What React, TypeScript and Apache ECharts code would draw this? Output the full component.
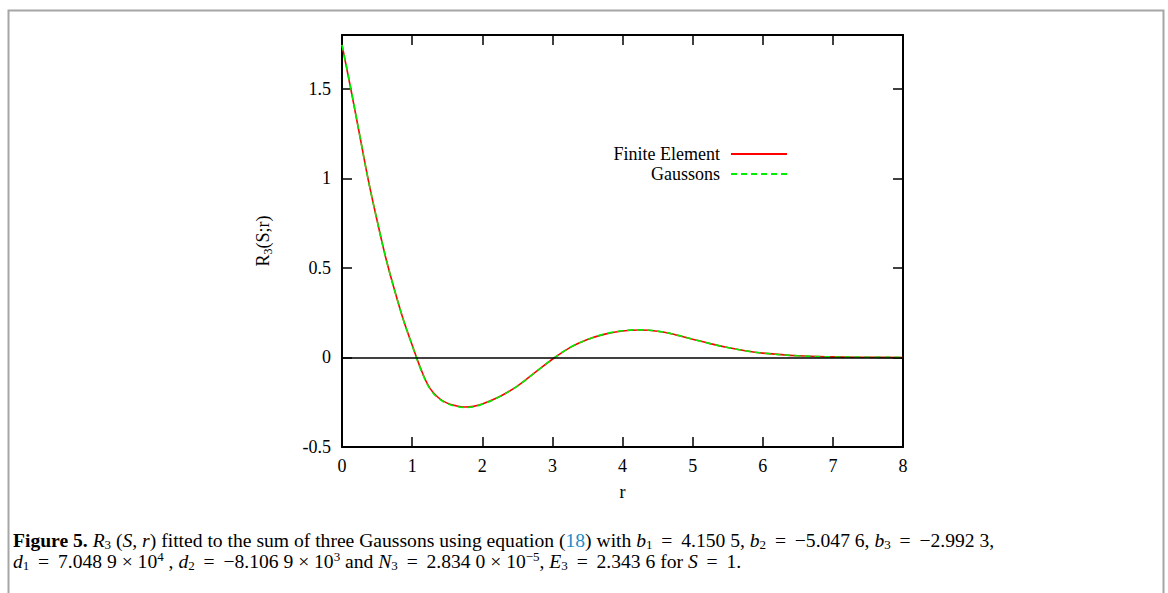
import React, { useEffect, useRef } from 'react';
import * as echarts from 'echarts';

const rValues = [0, 0.125, 0.25, 0.375, 0.5, 0.625, 0.75, 0.875, 1.0, 1.125, 1.25, 1.375, 1.5, 1.625, 1.75, 1.875, 2.0, 2.25, 2.5, 2.75, 3.0, 3.25, 3.5, 3.75, 4.0, 4.25, 4.5, 4.75, 5.0, 5.25, 5.5, 5.75, 6.0, 6.5, 7.0, 7.5, 8.0];
const finiteElement = [1.745, 1.5, 1.245, 0.99, 0.765, 0.555, 0.375, 0.21, 0.07, -0.065, -0.17, -0.225, -0.255, -0.27, -0.277, -0.273, -0.26, -0.218, -0.16, -0.085, -0.01, 0.055, 0.1, 0.13, 0.148, 0.153, 0.146, 0.127, 0.102, 0.077, 0.055, 0.037, 0.024, 0.009, 0.003, 0.001, 0.0];
const gaussons = [1.745, 1.505, 1.245, 0.99, 0.765, 0.555, 0.375, 0.21, 0.068, -0.068, -0.173, -0.228, -0.258, -0.273, -0.279, -0.275, -0.262, -0.219, -0.16, -0.085, -0.01, 0.055, 0.1, 0.131, 0.149, 0.154, 0.147, 0.128, 0.102, 0.077, 0.055, 0.037, 0.024, 0.009, 0.003, 0.001, 0.0];

const seriesNames = ['Finite Element', 'Gaussons'];
const xMin = 0, xMax = 8, xStep = 1;
const yMin = -0.5, yMax = 1.8, yStep = 0.5;

const FONT = '"Liberation Serif", "Times New Roman", serif';
const EQ = '\u2009=\u2009';

const captionLine1 =
  '{b|Figure 5.}{t| }{i|R}{sub|3}{t| (}{i|S}{t|, }{i|r}{t|) fitted to the sum of three Gaussons using equation (}{link|18}{t|) with }{i|b}{sub|1}{t| ' + EQ + ' 4.150 5, }{i|b}{sub|2}{t| ' + EQ + ' −5.047 6, }{i|b}{sub|3}{t| ' + EQ + ' −2.992 3,}';
const captionLine2 =
  '{i|d}{sub|1}{t| ' + EQ + ' 7.048 9 × 10}{sup|4}{t| , }{i|d}{sub|2}{t| ' + EQ + ' −8.106 9 × 10}{sup|3}{t| and }{i|N}{sub|3}{t| ' + EQ + ' 2.834 0 × 10}{sup|−5}{t|, }{i|E}{sub|3}{t| ' + EQ + ' 2.343 6 for }{i|S}{t| ' + EQ + ' 1.}';

const CAP = 19.6;
const captionRich = {
  b: { fontFamily: FONT, fontSize: CAP, fontWeight: 'bold', lineHeight: 22, verticalAlign: 'middle', fill: '#000' },
  t: { fontFamily: FONT, fontSize: CAP, lineHeight: 22, verticalAlign: 'middle', fill: '#000' },
  i: { fontFamily: FONT, fontSize: CAP, fontStyle: 'italic', lineHeight: 22, verticalAlign: 'middle', fill: '#000' },
  link: { fontFamily: FONT, fontSize: CAP, lineHeight: 22, verticalAlign: 'middle', fill: '#1a8cc8' },
  sub: { fontFamily: FONT, fontSize: 13, lineHeight: 13, verticalAlign: 'bottom', fill: '#000' },
  sup: { fontFamily: FONT, fontSize: 13, lineHeight: 13, verticalAlign: 'top', fill: '#000' },
};

export default function App() {
  const ref = useRef<HTMLDivElement>(null);
  useEffect(() => {
    if (!ref.current) return;
    const chart = echarts.init(ref.current, null, { renderer: 'svg' });
    const fe = rValues.map((r, i) => [r, finiteElement[i]]);
    const ga = rValues.map((r, i) => [r, gaussons[i]]);
    const axisLine = { show: true, onZero: false, lineStyle: { color: '#000', width: 2 } };
    const tick = { show: true, inside: true, length: 10, lineStyle: { color: '#000', width: 1.5 } };
    const legendBase = {
      right: 380,
      padding: 0,
      align: 'right',
      itemWidth: 56,
      itemHeight: 14,
      selectedMode: false,
      itemStyle: { opacity: 0 },
      textStyle: { fontFamily: FONT, fontSize: 18, color: '#000', padding: [0, 6, 0, 0] },
    };
    chart.setOption({
      animation: false,
      textStyle: { fontFamily: FONT },
      grid: { left: 342, right: 265, top: 35, bottom: 146 },
      legend: [
        { ...legendBase, data: [seriesNames[0]], top: 145 },
        { ...legendBase, data: [seriesNames[1]], top: 165 },
      ],
      xAxis: [
        {
          type: 'value', min: xMin, max: xMax, interval: xStep, position: 'bottom',
          axisLine, axisTick: tick, splitLine: { show: false },
          axisLabel: { fontFamily: FONT, fontSize: 18, color: '#000', margin: 10 },
          name: 'r', nameLocation: 'middle', nameGap: 36,
          nameTextStyle: { fontFamily: FONT, fontSize: 18, color: '#000' },
        },
        {
          type: 'value', min: xMin, max: xMax, interval: xStep, position: 'top',
          axisLine, axisTick: tick, splitLine: { show: false }, axisLabel: { show: false },
        },
      ],
      yAxis: [
        {
          type: 'value', min: yMin, max: yMax, interval: yStep, position: 'left',
          axisLine, axisTick: tick, splitLine: { show: false },
          axisLabel: { fontFamily: FONT, fontSize: 18, color: '#000', margin: 11, showMaxLabel: false },
          name: '{a|R}{s|3}{a|(S;r)}', nameLocation: 'middle', nameGap: 68, nameRotate: 90,
          nameTextStyle: {
            color: '#000',
            rich: {
              a: { fontFamily: FONT, fontSize: 18, lineHeight: 22, verticalAlign: 'middle', color: '#000' },
              s: { fontFamily: FONT, fontSize: 12, lineHeight: 12, verticalAlign: 'bottom', color: '#000' },
            },
          },
        },
        {
          type: 'value', min: yMin, max: yMax, interval: yStep, position: 'right',
          axisLine, axisTick: tick, splitLine: { show: false }, axisLabel: { show: false },
        },
      ],
      series: [
        {
          name: seriesNames[0], type: 'line', data: fe, smooth: 0.4, symbol: 'none',
          lineStyle: { color: '#ff0000', width: 1.6, type: 'solid' },
          itemStyle: { color: '#ff0000' },
          markLine: {
            silent: true, symbol: 'none', label: { show: false },
            lineStyle: { color: '#000', width: 1.5, type: 'solid' },
            data: [{ yAxis: 0 }],
          },
          z: 3,
        },
        {
          name: seriesNames[1], type: 'line', data: ga, smooth: 0.4, symbol: 'none',
          lineStyle: { color: '#00ee00', width: 1.6, type: [6, 4] },
          itemStyle: { color: '#00ee00' },
          z: 4,
        },
      ],
      graphic: [
        {
          type: 'rect', left: 6, top: 8, silent: true,
          shape: { x: 0, y: 0, width: 1155, height: 620 },
          style: { fill: 'none', stroke: '#a6a6a6', lineWidth: 2 },
        },
        {
          type: 'text', left: 13, top: 530,
          style: { text: captionLine1, rich: captionRich, font: CAP + 'px ' + FONT },
        },
        {
          type: 'text', left: 13, top: 550,
          style: { text: captionLine2, rich: captionRich, font: CAP + 'px ' + FONT },
        },
      ],
    });
    return () => chart.dispose();
  }, []);
  return (
    <div
      ref={ref}
      style={{ position: 'absolute', left: 0, top: 0, width: 1168, height: 593, background: '#fff' }}
    />
  );
}
